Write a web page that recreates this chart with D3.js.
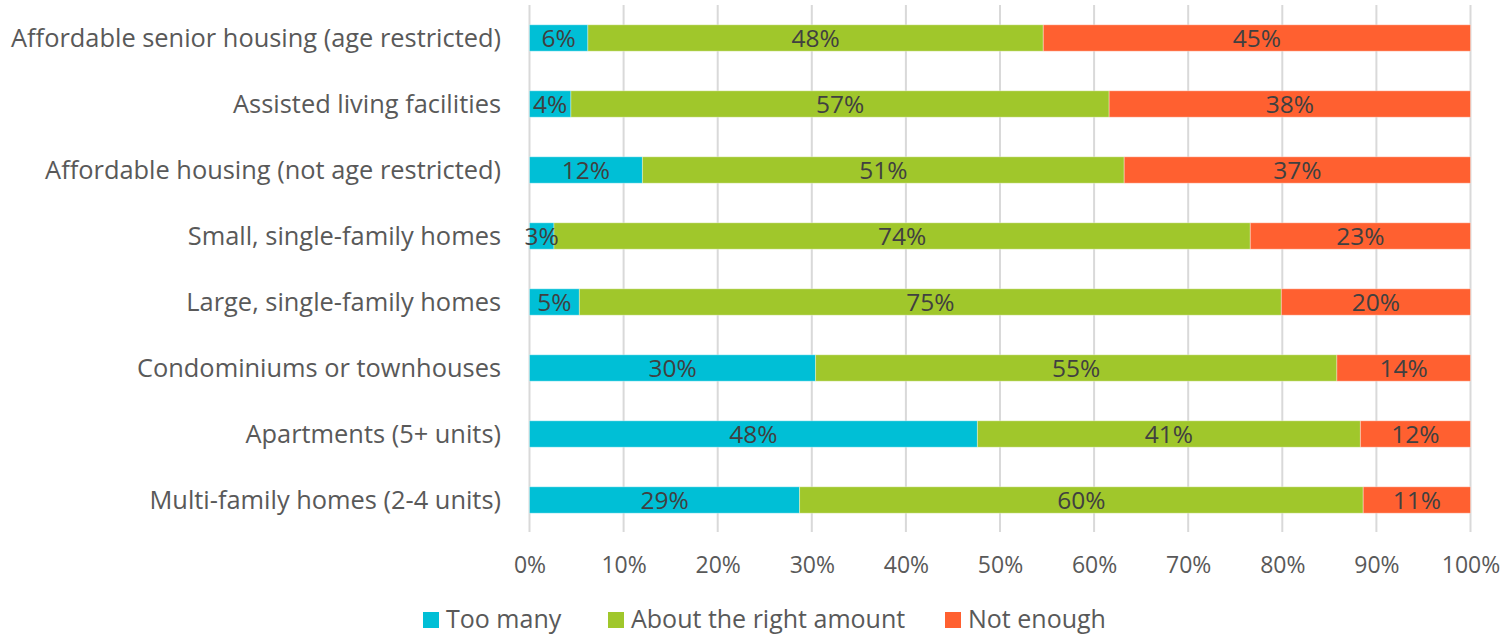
<!DOCTYPE html>
<html><head><meta charset="utf-8">
<script src="https://cdn.jsdelivr.net/npm/d3@7"></script>
<style>body{margin:0;background:#fff}svg{display:block}text{font-family:"Open Sans",sans-serif}</style>
</head><body><svg id="c" width="1508" height="638"></svg>
<script>
const categories = ["Affordable senior housing (age restricted)","Assisted living facilities","Affordable housing (not age restricted)","Small, single-family homes","Large, single-family homes","Condominiums or townhouses","Apartments (5+ units)","Multi-family homes (2-4 units)"];
const seriesNames = ["Too many","About the right amount","Not enough"];
const tooMany = [6.2, 4.4, 12.0, 2.6, 5.3, 30.4, 47.6, 28.7];
const rightAmount = [48.4, 57.2, 51.2, 74.0, 74.6, 55.4, 40.7, 59.9];
const notEnough = [45.4, 38.4, 36.8, 23.4, 20.1, 14.2, 11.7, 11.4];
const tickValues = [0,10,20,30,40,50,60,70,80,90,100];
const colors = ["#00BFD6","#A0C72B","#FF6030"];

const svg = d3.select("#c");
const x = d3.scaleLinear().domain([0,100]).range([529.5,1470.5]);
const y = d3.scaleBand().domain(categories).range([5,533]).paddingInner(0.6).paddingOuter(0.3);

svg.append("g").selectAll("line").data(tickValues).join("line")
  .attr("x1",d=>x(d)).attr("x2",d=>x(d)).attr("y1",5).attr("y2",532)
  .attr("stroke","#D9D9D9").attr("stroke-width",2);

const stackData = categories.map((c,i)=>({cat:c, s0:tooMany[i], s1:rightAmount[i], s2:notEnough[i]}));
const stack = d3.stack().keys(["s0","s1","s2"])(stackData);

const g = svg.append("g");
stack.forEach((layer,k)=>{
  g.append("g").selectAll("rect").data(layer).join("rect")
    .attr("x",d=>x(d[0])).attr("width",d=>x(d[1])-x(d[0]))
    .attr("y",d=>y(d.data.cat)).attr("height",y.bandwidth())
    .attr("fill",colors[k]).attr("stroke","rgba(255,255,255,0.35)").attr("stroke-width",1);
});
stack.forEach((layer,k)=>{
  g.append("g").selectAll("text").data(layer).join("text")
    .attr("x",d=>(x(d[0])+x(d[1]))/2).attr("y",d=>y(d.data.cat)+y.bandwidth()/2)
    .attr("dy","0.36em").attr("text-anchor","middle")
    .attr("font-size",24.5).attr("fill","#404040")
    .text(d=>Math.round(d[1]-d[0])+"%");
});

svg.append("g").selectAll("text").data(categories).join("text")
  .attr("x",501).attr("y",d=>y(d)+y.bandwidth()/2).attr("dy","0.36em")
  .attr("text-anchor","end").attr("font-size",25.4).attr("fill","#595959")
  .text(d=>d);

const xAxis = d3.axisBottom(x).tickValues(tickValues).tickFormat(d=>d+"%").tickSize(0).tickPadding(0);
const ax = svg.append("g").attr("transform","translate(0,557)").call(xAxis);
ax.select(".domain").remove();
ax.selectAll("text").attr("font-size",23).attr("fill","#595959").attr("font-family","'Open Sans',sans-serif");

const legendX = [423, 608, 945];
const lg = svg.append("g").selectAll("g").data(seriesNames).join("g")
  .attr("transform",(d,i)=>`translate(${legendX[i]},619)`);
lg.append("rect").attr("x",0).attr("y",-7).attr("width",16).attr("height",16).attr("fill",(d,i)=>colors[i]);
lg.append("text").attr("x",23).attr("y",0).attr("dy","0.36em").attr("font-size",25).attr("fill","#595959").text(d=>d);
</script></body></html>
